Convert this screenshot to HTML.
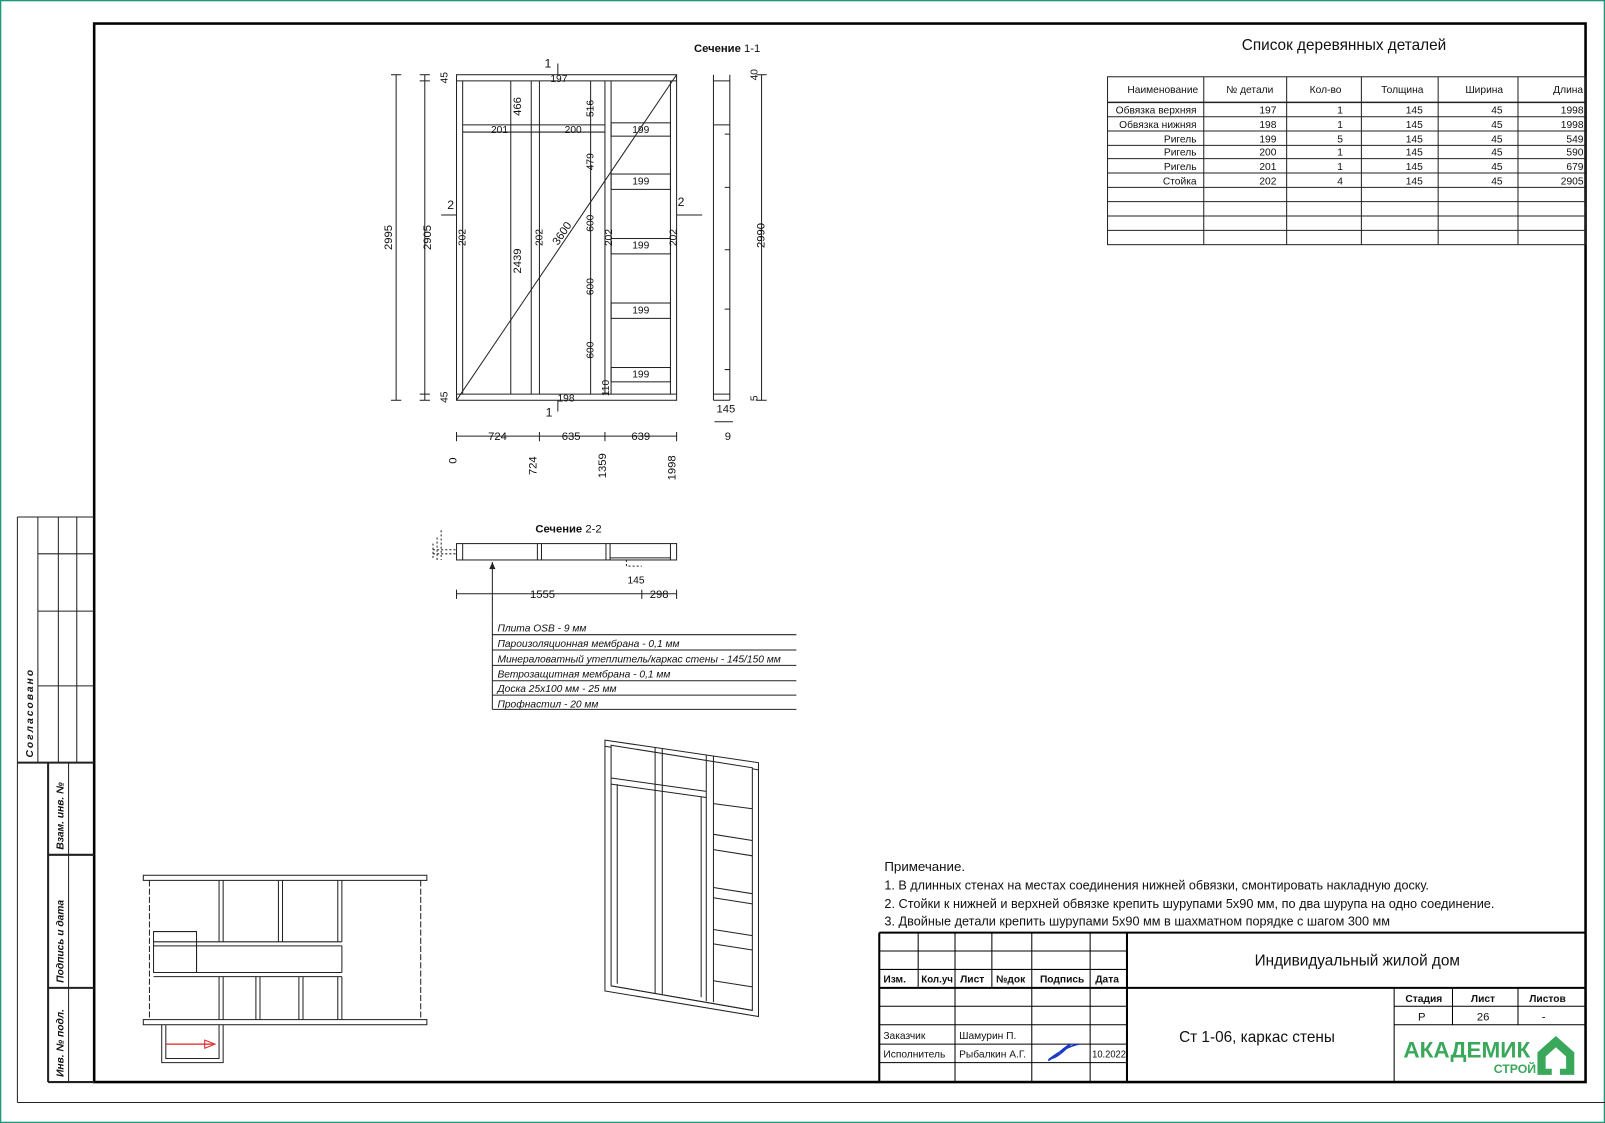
<!DOCTYPE html>
<html><head><meta charset="utf-8"><style>
html,body{margin:0;padding:0;background:#fff}
svg{display:block}
text{font-family:"Liberation Sans Narrow","Liberation Sans","DejaVu Sans",sans-serif;fill:#111}
</style></head><body>
<svg width="1605" height="1123" viewBox="0 0 1568 1097" preserveAspectRatio="none" xmlns="http://www.w3.org/2000/svg">
<rect x="0.5" y="0.5" width="1567" height="1096" fill="none" stroke="#1a9a7a" stroke-width="1.5"/>
<g stroke="#222" fill="none" stroke-width="1">
<line x1="17" y1="505" x2="17" y2="1077"/>
<line x1="17" y1="1077" x2="1568" y2="1077"/>
</g>
<rect x="92" y="23" width="1457" height="1034" fill="none" stroke="#000" stroke-width="2.5"/>
<g stroke="#222" fill="none" stroke-width="1">
<line x1="17" y1="505" x2="92" y2="505"/>
<line x1="37" y1="505" x2="37" y2="745"/><line x1="57" y1="505" x2="57" y2="745"/><line x1="75" y1="505" x2="75" y2="745"/>
<line x1="37" y1="541" x2="92" y2="541"/><line x1="37" y1="597" x2="92" y2="597"/><line x1="37" y1="670" x2="92" y2="670"/>
<line x1="17" y1="745" x2="92" y2="745" stroke-width="2"/>
<line x1="47" y1="745" x2="47" y2="1057" stroke-width="2"/><line x1="67" y1="745" x2="67" y2="1057"/>
<line x1="47" y1="835" x2="92" y2="835" stroke-width="2"/><line x1="47" y1="965" x2="92" y2="965" stroke-width="2"/>
<line x1="47" y1="1057" x2="92" y2="1057" stroke-width="2"/>
</g>
<g font-size="10" font-style="italic" font-weight="bold">
<text transform="translate(32,740) rotate(-90)" letter-spacing="2">Согласовано</text>
<text transform="translate(62,830) rotate(-90)">Взам. инв. №</text>
<text transform="translate(62,960) rotate(-90)">Подпись и дата</text>
<text transform="translate(62,1052) rotate(-90)">Инв. № подл.</text>
</g>
<text x="1313" y="49" font-size="15" text-anchor="middle">Список деревянных деталей</text>
<g stroke="#222" fill="none" stroke-width="1">
<rect x="1082" y="75" width="467" height="164"/>
<line x1="1082" y1="100" x2="1549" y2="100" stroke-width="1.5"/>
<line x1="1082" y1="114" x2="1549" y2="114"/><line x1="1082" y1="128" x2="1549" y2="128"/><line x1="1082" y1="142" x2="1549" y2="142"/>
<line x1="1082" y1="155" x2="1549" y2="155"/><line x1="1082" y1="169" x2="1549" y2="169"/><line x1="1082" y1="183" x2="1549" y2="183"/>
<line x1="1082" y1="197" x2="1549" y2="197"/><line x1="1082" y1="211" x2="1549" y2="211"/><line x1="1082" y1="225" x2="1549" y2="225"/>
<line x1="1176" y1="75" x2="1176" y2="239"/><line x1="1257" y1="75" x2="1257" y2="239"/><line x1="1330" y1="75" x2="1330" y2="239"/>
<line x1="1405" y1="75" x2="1405" y2="239"/><line x1="1483" y1="75" x2="1483" y2="239"/>
</g>
<g font-size="10">
<text x="1136" y="91" text-anchor="middle">Наименование</text><text x="1221" y="91" text-anchor="middle">№ детали</text>
<text x="1295" y="91" text-anchor="middle">Кол-во</text><text x="1370" y="91" text-anchor="middle">Толщина</text>
<text x="1450" y="91" text-anchor="middle">Ширина</text><text x="1532" y="91" text-anchor="middle">Длина</text>
</g>
<g font-size="10" text-anchor="end">
<text x="1169" y="111">Обвязка верхняя</text><text x="1247" y="111">197</text><text x="1312" y="111">1</text><text x="1390" y="111">145</text><text x="1468" y="111">45</text><text x="1547" y="111">1998</text>
<text x="1169" y="125">Обвязка нижняя</text><text x="1247" y="125">198</text><text x="1312" y="125">1</text><text x="1390" y="125">145</text><text x="1468" y="125">45</text><text x="1547" y="125">1998</text>
<text x="1169" y="139">Ригель</text><text x="1247" y="139">199</text><text x="1312" y="139">5</text><text x="1390" y="139">145</text><text x="1468" y="139">45</text><text x="1547" y="139">549</text>
<text x="1169" y="152">Ригель</text><text x="1247" y="152">200</text><text x="1312" y="152">1</text><text x="1390" y="152">145</text><text x="1468" y="152">45</text><text x="1547" y="152">590</text>
<text x="1169" y="166">Ригель</text><text x="1247" y="166">201</text><text x="1312" y="166">1</text><text x="1390" y="166">145</text><text x="1468" y="166">45</text><text x="1547" y="166">679</text>
<text x="1169" y="180">Стойка</text><text x="1247" y="180">202</text><text x="1312" y="180">4</text><text x="1390" y="180">145</text><text x="1468" y="180">45</text><text x="1547" y="180">2905</text>
</g>
<text x="678" y="51" font-size="11" font-weight="bold">Сечение <tspan font-weight="normal">1-1</tspan></text>
<g stroke="#222" fill="none" stroke-width="1">
<rect x="446" y="73" width="215" height="318"/>
<line x1="446" y1="79" x2="661" y2="79"/><line x1="446" y1="385" x2="661" y2="385"/>
<line x1="452" y1="79" x2="452" y2="385"/>
<line x1="519" y1="79" x2="519" y2="385"/><line x1="527" y1="79" x2="527" y2="385"/>
<line x1="591" y1="79" x2="591" y2="385"/><line x1="597" y1="79" x2="597" y2="385"/>
<line x1="655" y1="79" x2="655" y2="385"/>
<line x1="452" y1="122" x2="591" y2="122"/><line x1="452" y1="129" x2="591" y2="129"/>
<rect x="597" y="120" width="58" height="13"/><rect x="597" y="170" width="58" height="15"/>
<rect x="597" y="233" width="58" height="15"/><rect x="597" y="296" width="58" height="15"/>
<rect x="597" y="359" width="58" height="14"/>
<line x1="446" y1="391" x2="661" y2="73"/>
<line x1="387" y1="73" x2="387" y2="391"/><line x1="382" y1="73" x2="392" y2="73"/><line x1="382" y1="391" x2="392" y2="391"/>
<line x1="415" y1="73" x2="415" y2="391"/><line x1="410" y1="73" x2="420" y2="73"/><line x1="410" y1="79" x2="420" y2="79"/><line x1="410" y1="385" x2="420" y2="385"/><line x1="410" y1="391" x2="420" y2="391"/>
<line x1="499" y1="79" x2="499" y2="385"/>
<line x1="577" y1="79" x2="577" y2="385"/>
<line x1="697" y1="73" x2="697" y2="391"/><line x1="713" y1="73" x2="713" y2="391"/><line x1="697" y1="79" x2="713" y2="79"/><line x1="697" y1="385" x2="713" y2="385"/><line x1="697" y1="391" x2="713" y2="391"/>
<line x1="697" y1="122" x2="713" y2="122"/>
<line x1="744" y1="73" x2="744" y2="391"/><line x1="739" y1="73" x2="749" y2="73"/><line x1="739" y1="391" x2="749" y2="391"/>
<line x1="446" y1="426" x2="661" y2="426"/>
<line x1="446" y1="422" x2="446" y2="431"/><line x1="527" y1="422" x2="527" y2="431"/><line x1="591" y1="422" x2="591" y2="431"/><line x1="661" y1="422" x2="661" y2="431"/>
<line x1="698" y1="412" x2="716" y2="412"/>
<line x1="431" y1="210" x2="446" y2="210"/><line x1="661" y1="210" x2="686" y2="210"/>
<line x1="545" y1="62" x2="545" y2="73"/><line x1="545" y1="391" x2="545" y2="402"/>
</g>
<g stroke="#222" stroke-width="1">
<path d="M708 131h5M708 183h5M708 244h5M708 302h5M708 361h5" fill="none"/>
</g>
<g font-size="10">
<text x="546" y="80" text-anchor="middle">197</text><text x="553" y="392" text-anchor="middle">198</text>
<text x="488" y="130" text-anchor="middle">201</text><text x="560" y="130" text-anchor="middle">200</text>
<text x="626" y="130" text-anchor="middle">199</text><text x="626" y="180" text-anchor="middle">199</text><text x="626" y="243" text-anchor="middle">199</text><text x="626" y="306" text-anchor="middle">199</text><text x="626" y="369" text-anchor="middle">199</text>
<text x="532" y="66" font-size="12">1</text><text x="533" y="407" font-size="12">1</text>
<text x="437" y="204" font-size="12">2</text><text x="662" y="201" font-size="12">2</text>
<text x="700" y="403" font-size="11">145</text><text x="708" y="430" font-size="11">9</text>
<text transform="translate(383,232) rotate(-90)" text-anchor="middle" font-size="11">2995</text>
<text transform="translate(421,232) rotate(-90)" text-anchor="middle" font-size="11">2905</text>
<text transform="translate(437,76) rotate(-90)" text-anchor="middle">45</text>
<text transform="translate(437,388) rotate(-90)" text-anchor="middle">45</text>
<text transform="translate(455,232) rotate(-90)" text-anchor="middle">202</text>
<text transform="translate(530,232) rotate(-90)" text-anchor="middle">202</text>
<text transform="translate(598,232) rotate(-90)" text-anchor="middle">202</text>
<text transform="translate(661,232) rotate(-90)" text-anchor="middle">202</text>
<text transform="translate(509,255) rotate(-90)" text-anchor="middle" font-size="11">2439</text>
<text transform="translate(509,104) rotate(-90)" text-anchor="middle" font-size="11">466</text>
<text transform="translate(552,230) rotate(-56)" text-anchor="middle" font-size="11">3600</text>
<text transform="translate(580,106) rotate(-90)" text-anchor="middle">516</text>
<text transform="translate(580,158) rotate(-90)" text-anchor="middle">479</text>
<text transform="translate(580,218) rotate(-90)" text-anchor="middle">600</text>
<text transform="translate(580,280) rotate(-90)" text-anchor="middle">600</text>
<text transform="translate(580,342) rotate(-90)" text-anchor="middle">600</text>
<text transform="translate(595,379) rotate(-90)" text-anchor="middle">110</text>
<text transform="translate(740,73) rotate(-90)" text-anchor="middle">40</text>
<text transform="translate(740,389) rotate(-90)" text-anchor="middle">5</text>
<text transform="translate(747,230) rotate(-90)" text-anchor="middle" font-size="11">2990</text>
<text x="486" y="430" text-anchor="middle" font-size="11">724</text>
<text x="558" y="430" text-anchor="middle" font-size="11">635</text>
<text x="626" y="430" text-anchor="middle" font-size="11">639</text>
<text transform="translate(446,450) rotate(-90)" text-anchor="middle" font-size="11">0</text>
<text transform="translate(524,455) rotate(-90)" text-anchor="middle" font-size="11">724</text>
<text transform="translate(592,455) rotate(-90)" text-anchor="middle" font-size="11">1359</text>
<text transform="translate(660,457) rotate(-90)" text-anchor="middle" font-size="11">1998</text>
</g>
<text x="523" y="520" font-size="11" font-weight="bold">Сечение <tspan font-weight="normal">2-2</tspan></text>
<g stroke="#222" fill="none" stroke-width="1">
<rect x="446" y="531" width="215" height="16"/>
<line x1="452" y1="531" x2="452" y2="547"/><line x1="525" y1="531" x2="525" y2="547"/><line x1="529" y1="531" x2="529" y2="547"/>
<line x1="592" y1="531" x2="592" y2="547"/><line x1="596" y1="531" x2="596" y2="547"/><line x1="655" y1="531" x2="655" y2="547"/>
<line x1="596" y1="545" x2="655" y2="545"/>
<path d="M423 531v16M427 525v22M431 518v29M423 537h23M423 541h23" stroke-dasharray="2 2"/>
<path d="M612 547v6h15" stroke-dasharray="2 2"/>
<line x1="481" y1="549" x2="481" y2="605"/>
<line x1="446" y1="580" x2="661" y2="580"/><line x1="446" y1="576" x2="446" y2="585"/><line x1="627" y1="576" x2="627" y2="585"/><line x1="661" y1="576" x2="661" y2="585"/>
<line x1="481" y1="620" x2="778" y2="620"/><line x1="481" y1="635" x2="778" y2="635"/><line x1="481" y1="650" x2="778" y2="650"/>
<line x1="481" y1="665" x2="778" y2="665"/><line x1="481" y1="679" x2="778" y2="679"/><line x1="481" y1="693" x2="778" y2="693"/>
<line x1="481" y1="605" x2="481" y2="693"/>
</g>
<path d="M478 556l3 -7l3 7z" fill="#222"/>
<g font-size="10">
<text x="613" y="570">145</text>
<text x="530" y="584" text-anchor="middle" font-size="11">1555</text>
<text x="644" y="584" text-anchor="middle" font-size="11">298</text>
</g>
<g font-size="10" font-style="italic">
<text x="486" y="617">Плита OSB - 9 мм</text>
<text x="486" y="632">Пароизоляционная мембрана - 0,1 мм</text>
<text x="486" y="647">Минераловатный утеплитель/каркас стены - 145/150 мм</text>
<text x="486" y="662">Ветрозащитная мембрана - 0,1 мм</text>
<text x="486" y="676">Доска 25х100 мм - 25 мм</text>
<text x="486" y="691">Профнастил - 20 мм</text>
</g>
<g stroke="#222" fill="none" stroke-width="1">
<path d="M591 723L741 745V993L591 968Z"/>
<path d="M597 728L735 750V987L597 963Z"/>
<path d="M591 729L597 730M735 751L741 752"/>
<path d="M597 760L690 773M597 766L690 779"/>
<path d="M640 730V970M647 731V971M690 738V978M697 739V979"/>
<path d="M603 766V961M685 778V974"/>
<path d="M697 785L735 790M697 815L735 821M697 830L735 836M697 867L735 873M697 877L735 883M697 908L735 914M697 922L735 928M697 958L735 964"/>
<path d="M597 963L735 987"/>
</g>
<g stroke="#222" fill="none" stroke-width="1">
<rect x="140" y="855" width="277" height="5"/>
<rect x="140" y="996" width="277" height="5"/>
<path d="M146 860V996M411 860V996" stroke-dasharray="6 2"/>
<path d="M214 860V920M218 860V920M272 860V920M276 860V920M330 860V920M334 860V920M150 920H334M150 924H334"/>
<path d="M150 910H192V950H150Z"/>
<path d="M150 950H334M150 954H334M214 954V996M218 954V996M250 954V996M254 954V996M292 954V996M296 954V996M330 954V996M334 954V996"/>
<path d="M192 924V950M334 924V950"/>
<path d="M158 1001V1038H218V1001M162 1001V1034H214V1001"/>
</g>
<path d="M162 1020H208" stroke="#d22" stroke-width="1.2"/><path d="M200 1016l10 4l-10 4z" fill="none" stroke="#d22"/>
<g font-size="13">
<text x="864" y="851">Примечание.</text>
<text x="864" y="869" textLength="532" lengthAdjust="spacingAndGlyphs">1. В длинных стенах на местах соединения нижней обвязки, смонтировать накладную доску.</text>
<text x="864" y="887" textLength="596" lengthAdjust="spacingAndGlyphs">2. Стойки к нижней и верхней обвязке крепить шурупами  5х90 мм, по два шурупа на одно соединение.</text>
<text x="864" y="904" textLength="494" lengthAdjust="spacingAndGlyphs">3. Двойные детали крепить шурупами 5х90 мм в шахматном порядке с шагом 300 мм</text>
</g>
<g stroke="#000" fill="none">
<path d="M859 911H1549M859 911V1057" stroke-width="2"/>
<path d="M1101 911V1057" stroke-width="2"/>
<path d="M859 965H1549" stroke-width="2"/>
<path d="M859 929H1101M859 947H1101M859 983H1101M859 1001H1101M859 1020H1101M859 1038H1101" stroke-width="1"/>
<path d="M897 911V965M969 911V965M933 911V1057M1008 911V1057M1065 911V1057" stroke-width="1"/>
<path d="M1362 965V1057M1362 983H1549M1362 1001H1549M1419 965V1001M1483 965V1001" stroke-width="1"/>
</g>
<g font-size="10" font-weight="bold">
<text x="863" y="960">Изм.</text><text x="900" y="960" textLength="31" lengthAdjust="spacingAndGlyphs">Кол.уч</text><text x="938" y="960">Лист</text><text x="973" y="960">№док</text><text x="1016" y="960">Подпись</text><text x="1070" y="960">Дата</text>
<text x="1373" y="979">Стадия</text><text x="1437" y="979">Лист</text><text x="1494" y="979">Листов</text>
</g>
<g font-size="10">
<text x="863" y="1015">Заказчик</text><text x="937" y="1015">Шамурин П.</text>
<text x="863" y="1033">Исполнитель</text><text x="937" y="1033">Рыбалкин А.Г.</text>
<text x="1067" y="1033" textLength="33" lengthAdjust="spacingAndGlyphs">10.2022</text>
<text x="1389" y="997" font-size="11" text-anchor="middle">Р</text><text x="1449" y="997" font-size="11" text-anchor="middle">26</text><text x="1508" y="997" font-size="11" text-anchor="middle">-</text>
</g>
<text x="1326" y="943" font-size="15" text-anchor="middle">Индивидуальный жилой дом</text>
<text x="1228" y="1018" font-size="15" text-anchor="middle">Ст 1-06, каркас стены</text>
<path d="M1024 1036c8-4 16-14 22-16c-6 6-14 14-20 14c8-6 18-12 28-14" stroke="#1a3ac8" stroke-width="1.5" fill="none"/>
<text x="1433" y="1033" font-size="22" font-weight="bold" text-anchor="middle" style="fill:#3aa85a">АКАДЕМИК</text>
<text x="1480" y="1048" font-size="12" font-weight="bold" text-anchor="middle" style="fill:#3aa85a">СТРОЙ</text>
<path d="M1502 1028l18-16l18 16v22h-14v-14h-8v14h-14z" fill="#3aa85a"/>
<path d="M1510 1032l10-9l10 9v12h-20z" fill="#fff"/>
</svg>
</body></html>
